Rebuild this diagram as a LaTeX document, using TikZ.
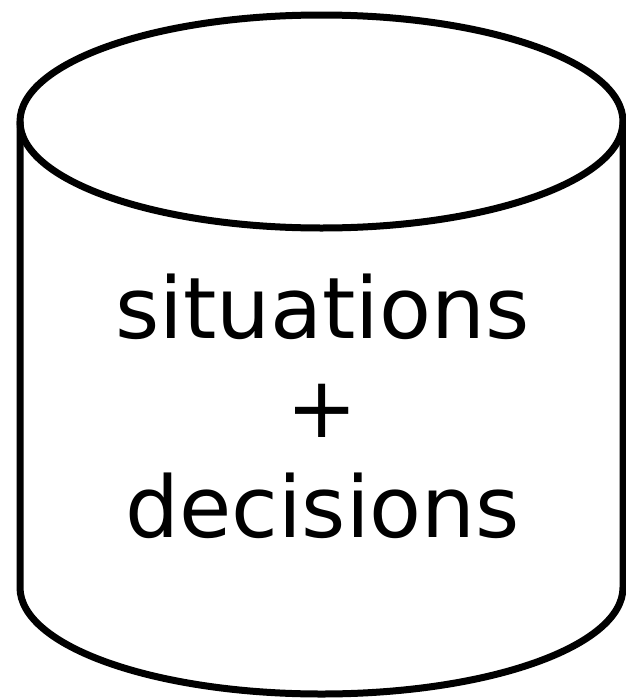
\documentclass[tikz,border=0pt]{standalone}
\usepackage{fontspec}
\setmainfont{DejaVu Sans}

\begin{document}
\begin{tikzpicture}[x=1pt, y=-1pt,
    every node/.style={font=\fontsize{85}{99.5}\selectfont},
    outline/.style={draw=black, line width=7pt},
    storetext/.style={align=center, inner sep=0pt},
]
\useasboundingbox (0,0) rectangle (626,699);

% ── Cylinder ───────────────────────────────────────────────────────────
\def\cx{321.5}
\def\rx{301.5}
\def\ry{106.5}
\def\topY{121.5}
\def\botY{587.5}

\draw[outline] (\cx,\topY) ellipse [x radius=\rx, y radius=\ry];
\draw[outline] (\cx-\rx,\topY) -- (\cx-\rx,\botY)
    arc[start angle=180, end angle=0, x radius=\rx, y radius=\ry]
    -- (\cx+\rx,\topY);

% ── Contents ───────────────────────────────────────────────────────────
\node[storetext] (contents) at (\cx+1,406) {situations\\+\\decisions};

\end{tikzpicture}
\end{document}
